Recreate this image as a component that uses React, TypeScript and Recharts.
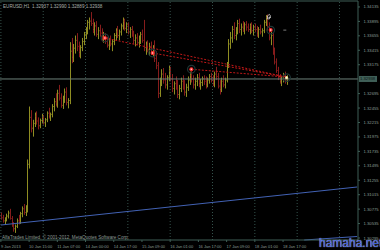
import React from 'react';
import { ComposedChart, Bar, XAxis, YAxis, ReferenceLine, ReferenceDot } from 'recharts';

// EURUSD H1, 9 Jan - 18 Jan 2013 (prices)
const opens = [
  1.3066, 1.3063, 1.3058, 1.3061, 1.3066, 1.3071, 1.3062, 1.3050, 1.3045, 1.3049,
  1.3058, 1.3055, 1.3070, 1.3078, 1.3072, 1.3078, 1.3152, 1.3230, 1.3212, 1.3220,
  1.3232, 1.3224, 1.3216, 1.3225, 1.3230, 1.3221, 1.3226, 1.3237, 1.3232, 1.3235,
  1.3248, 1.3256, 1.3252, 1.3270, 1.3262, 1.3250, 1.3260, 1.3272, 1.3255, 1.3258,
  1.3340, 1.3330, 1.3345, 1.3358, 1.3348, 1.3338, 1.3346, 1.3356, 1.3368, 1.3374,
  1.3388, 1.3390, 1.3386, 1.3376, 1.3382, 1.3368, 1.3374, 1.3370, 1.3360, 1.3368,
  1.3356, 1.3350, 1.3358, 1.3352, 1.3356, 1.3366, 1.3372, 1.3366, 1.3372, 1.3382,
  1.3390, 1.3378, 1.3384, 1.3372, 1.3376, 1.3368, 1.3358, 1.3362, 1.3354, 1.3360,
  1.3368, 1.3358, 1.3346, 1.3350, 1.3342, 1.3348, 1.3338, 1.3344, 1.3328, 1.3316,
  1.3270, 1.3290, 1.3302, 1.3292, 1.3284, 1.3296, 1.3308, 1.3294, 1.3278, 1.3286,
  1.3280, 1.3268, 1.3278, 1.3290, 1.3282, 1.3272, 1.3280, 1.3292, 1.3300, 1.3294,
  1.3284, 1.3290, 1.3296, 1.3286, 1.3288, 1.3294, 1.3290, 1.3284, 1.3292, 1.3298,
  1.3292, 1.3286, 1.3302, 1.3298, 1.3282, 1.3276, 1.3290, 1.3284, 1.3292, 1.3318,
  1.3352, 1.3362, 1.3376, 1.3366, 1.3374, 1.3386, 1.3376, 1.3380, 1.3378, 1.3384,
  1.3380, 1.3376, 1.3382, 1.3374, 1.3380, 1.3376, 1.3370, 1.3376, 1.3372, 1.3374,
  1.3388, 1.3396, 1.3380, 1.3362, 1.3366, 1.3340, 1.3322, 1.3308, 1.3296, 1.3290,
  1.3294, 1.3300, 1.3292,
];
const highs = [
  1.3072, 1.3068, 1.3064, 1.3070, 1.3075, 1.3078, 1.3066, 1.3056, 1.3052, 1.3062,
  1.3068, 1.3073, 1.3082, 1.3086, 1.3084, 1.3160, 1.3248, 1.3242, 1.3226, 1.3238,
  1.3240, 1.3230, 1.3228, 1.3236, 1.3234, 1.3229, 1.3240, 1.3246, 1.3238, 1.3252,
  1.3262, 1.3270, 1.3276, 1.3284, 1.3270, 1.3266, 1.3278, 1.3280, 1.3262, 1.3355,
  1.3362, 1.3352, 1.3366, 1.3370, 1.3356, 1.3350, 1.3362, 1.3372, 1.3380, 1.3392,
  1.3396, 1.3405, 1.3394, 1.3388, 1.3390, 1.3380, 1.3384, 1.3378, 1.3372, 1.3370,
  1.3364, 1.3362, 1.3366, 1.3360, 1.3370, 1.3378, 1.3382, 1.3376, 1.3386, 1.3396,
  1.3394, 1.3388, 1.3388, 1.3380, 1.3382, 1.3374, 1.3368, 1.3370, 1.3366, 1.3372,
  1.3376, 1.3392, 1.3356, 1.3358, 1.3354, 1.3356, 1.3350, 1.3358, 1.3340, 1.3322,
  1.3296, 1.3310, 1.3312, 1.3304, 1.3300, 1.3316, 1.3314, 1.3302, 1.3290, 1.3298,
  1.3292, 1.3284, 1.3296, 1.3300, 1.3292, 1.3286, 1.3298, 1.3306, 1.3310, 1.3300,
  1.3296, 1.3302, 1.3304, 1.3294, 1.3298, 1.3300, 1.3298, 1.3296, 1.3302, 1.3304,
  1.3300, 1.3306, 1.3314, 1.3304, 1.3292, 1.3296, 1.3300, 1.3296, 1.3322, 1.3360,
  1.3372, 1.3382, 1.3388, 1.3380, 1.3392, 1.3394, 1.3386, 1.3390, 1.3388, 1.3390,
  1.3386, 1.3386, 1.3388, 1.3384, 1.3386, 1.3382, 1.3380, 1.3384, 1.3378, 1.3392,
  1.3400, 1.3401, 1.3388, 1.3372, 1.3370, 1.3346, 1.3328, 1.3314, 1.3302, 1.3298,
  1.3304, 1.3306, 1.3300,
];
const lows = [
  1.3060, 1.3055, 1.3052, 1.3057, 1.3062, 1.3060, 1.3048, 1.3040, 1.3038, 1.3046,
  1.3052, 1.3053, 1.3064, 1.3068, 1.3066, 1.3072, 1.3145, 1.3205, 1.3198, 1.3214,
  1.3218, 1.3210, 1.3212, 1.3220, 1.3218, 1.3214, 1.3222, 1.3228, 1.3224, 1.3230,
  1.3240, 1.3248, 1.3246, 1.3258, 1.3246, 1.3244, 1.3254, 1.3250, 1.3245, 1.3252,
  1.3320, 1.3322, 1.3336, 1.3340, 1.3330, 1.3328, 1.3340, 1.3350, 1.3360, 1.3368,
  1.3376, 1.3382, 1.3370, 1.3366, 1.3364, 1.3360, 1.3364, 1.3356, 1.3354, 1.3352,
  1.3346, 1.3342, 1.3348, 1.3340, 1.3350, 1.3358, 1.3362, 1.3358, 1.3366, 1.3376,
  1.3374, 1.3370, 1.3368, 1.3362, 1.3364, 1.3352, 1.3348, 1.3350, 1.3346, 1.3352,
  1.3354, 1.3340, 1.3334, 1.3338, 1.3332, 1.3334, 1.3330, 1.3322, 1.3310, 1.3262,
  1.3264, 1.3282, 1.3286, 1.3278, 1.3276, 1.3290, 1.3290, 1.3272, 1.3268, 1.3276,
  1.3262, 1.3260, 1.3272, 1.3276, 1.3266, 1.3264, 1.3274, 1.3284, 1.3288, 1.3278,
  1.3276, 1.3282, 1.3280, 1.3276, 1.3282, 1.3284, 1.3278, 1.3280, 1.3286, 1.3288,
  1.3282, 1.3280, 1.3292, 1.3278, 1.3268, 1.3272, 1.3280, 1.3278, 1.3288, 1.3312,
  1.3344, 1.3354, 1.3360, 1.3358, 1.3368, 1.3370, 1.3366, 1.3372, 1.3368, 1.3374,
  1.3372, 1.3368, 1.3370, 1.3366, 1.3372, 1.3364, 1.3362, 1.3368, 1.3364, 1.3370,
  1.3382, 1.3374, 1.3358, 1.3350, 1.3334, 1.3318, 1.3304, 1.3292, 1.3286, 1.3282,
  1.3288, 1.3286, 1.3284,
];
const closes = [
  1.3063, 1.3058, 1.3061, 1.3066, 1.3071, 1.3062, 1.3050, 1.3045, 1.3049, 1.3058,
  1.3055, 1.3070, 1.3078, 1.3072, 1.3078, 1.3152, 1.3230, 1.3212, 1.3220, 1.3232,
  1.3224, 1.3216, 1.3225, 1.3230, 1.3221, 1.3226, 1.3237, 1.3232, 1.3235, 1.3248,
  1.3256, 1.3252, 1.3270, 1.3262, 1.3250, 1.3260, 1.3272, 1.3255, 1.3258, 1.3340,
  1.3330, 1.3345, 1.3358, 1.3348, 1.3338, 1.3346, 1.3356, 1.3368, 1.3374, 1.3388,
  1.3390, 1.3386, 1.3376, 1.3382, 1.3368, 1.3374, 1.3370, 1.3360, 1.3368, 1.3356,
  1.3350, 1.3358, 1.3352, 1.3356, 1.3366, 1.3372, 1.3366, 1.3372, 1.3382, 1.3390,
  1.3378, 1.3384, 1.3372, 1.3376, 1.3368, 1.3358, 1.3362, 1.3354, 1.3360, 1.3368,
  1.3358, 1.3346, 1.3350, 1.3342, 1.3348, 1.3338, 1.3344, 1.3328, 1.3316, 1.3270,
  1.3290, 1.3302, 1.3292, 1.3284, 1.3296, 1.3308, 1.3294, 1.3278, 1.3286, 1.3280,
  1.3268, 1.3278, 1.3290, 1.3282, 1.3272, 1.3280, 1.3292, 1.3300, 1.3294, 1.3284,
  1.3290, 1.3296, 1.3286, 1.3288, 1.3294, 1.3290, 1.3284, 1.3292, 1.3298, 1.3292,
  1.3286, 1.3302, 1.3298, 1.3282, 1.3276, 1.3290, 1.3284, 1.3292, 1.3318, 1.3352,
  1.3362, 1.3376, 1.3366, 1.3374, 1.3386, 1.3376, 1.3380, 1.3378, 1.3384, 1.3380,
  1.3376, 1.3382, 1.3374, 1.3380, 1.3376, 1.3370, 1.3376, 1.3372, 1.3374, 1.3388,
  1.3396, 1.3380, 1.3362, 1.3366, 1.3340, 1.3322, 1.3308, 1.3296, 1.3290, 1.3294,
  1.3300, 1.3292, 1.32938,
];

const timeLabels = [
  '9 Jan 2013', '10 Jan 15:00', '11 Jan 07:00', '14 Jan 00:00', '14 Jan 17:00', '15 Jan 09:00',
  '16 Jan 01:00', '16 Jan 17:00', '17 Jan 09:00', '18 Jan 01:00', '18 Jan 17:00',
];
const timeTickBars = [0, 16, 32, 48, 64, 80, 96, 112, 128, 144, 160];
const gridBars = [0, 24, 48, 72, 96, 120, 144, 168, 192];
const priceTicks = [
  1.34135, 1.33895, 1.33655, 1.33415, 1.33175, 1.32695, 1.32455, 1.32215,
  1.31975, 1.31735, 1.31495, 1.31255, 1.31015, 1.30775, 1.30535, 1.30295,
];
const priceRange = [1.30262, 1.34234];

// objects placed on the chart (bar index, price)
const markers = [
  { bar: 59, price: 1.3362, kind: 'red' },
  { bar: 86, price: 1.3337, kind: 'red' },
  { bar: 108, price: 1.3310, kind: 'red' },
  { bar: 153, price: 1.3375, kind: 'red' },
  { bar: 162, price: 1.3296, kind: 'last' },
];
const dashedLines = [
  { from: { bar: 59, price: 1.3362 }, to: { bar: 162, price: 1.3297 } },
  { from: { bar: 86, price: 1.3337 }, to: { bar: 162, price: 1.3297 } },
  { from: { bar: 108, price: 1.3310 }, to: { bar: 162, price: 1.3297 } },
];
const trendLines = [
  { from: { bar: 0, price: 1.30511 }, to: { bar: 202, price: 1.31143 } },
  { from: { bar: 172, price: 1.30262 }, to: { bar: 202, price: 1.30320 } },
];
const iconSpots = [
  { bar: 152, price: 1.3397, kind: 'hand' },
  { bar: 161, price: 1.3375, kind: 'dash' },
];

const SLOTS = 203;
const UP = '#8f8d22';
const DOWN = '#861c1c';
const AXIS = '#3f5f57';
const TEXT = '#8a9c95';
const FONT = 'Liberation Sans, Arial, sans-serif';

const rows = Array.from({ length: SLOTS }, (_, i) =>
  i < closes.length
    ? { i, open: opens[i], high: highs[i], low: lows[i], close: closes[i], range: [lows[i], highs[i]] }
    : { i, range: null }
);

const lastClose = closes[closes.length - 1];

const OhlcBar = (props: any) => {
  const { x, y, width, height, payload } = props;
  if (!payload || payload.close == null) return null;
  const { open, high, low, close } = payload;
  const top = Math.min(y, y + height);
  const h = Math.abs(height);
  const span = high - low || 1;
  const yOf = (v: number) => top + ((high - v) / span) * h;
  const cx = Math.round(x + width / 2) + 0.5;
  const color = close >= open ? UP : DOWN;
  return (
    <g>
      <line x1={cx} x2={cx} y1={top} y2={top + Math.max(h, 1)} stroke={color} strokeWidth={1} />
      <line x1={cx - 1} x2={cx} y1={yOf(open)} y2={yOf(open)} stroke={color} strokeWidth={0.8} />
      <line x1={cx} x2={cx + 1} y1={yOf(close)} y2={yOf(close)} stroke={color} strokeWidth={0.8} />
    </g>
  );
};

const Marker = (props: any) => {
  const { cx, cy, kind } = props;
  const last = kind === 'last';
  return (
    <g>
      <circle cx={cx} cy={cy} r={3.8} fill="none" stroke="#1f3535" strokeWidth={1.2} />
      <circle cx={cx} cy={cy} r={last ? 1.6 : 2} fill={last ? '#e8d890' : '#ff3030'} />
      <circle cx={cx} cy={cy} r={0.8} fill={last ? '#fff8e0' : '#ffd8d8'} />
    </g>
  );
};

const Icon = (props: any) => {
  const { cx, cy, kind } = props;
  if (kind === 'dash') {
    return <line x1={cx - 1.5} x2={cx + 1.5} y1={cy} y2={cy} stroke="#7a7a7a" strokeWidth={1} />;
  }
  return (
    <g stroke="#d8d8d8" strokeWidth={0.8} fill="none">
      <path d={`M${cx - 1.5},${cy + 2} L${cx - 1.5},${cy - 1} L${cx + 0.5},${cy - 2.5} L${cx + 1.5},${cy - 1} L${cx + 0.5},${cy + 2} Z`} />
      <line x1={cx - 0.5} x2={cx + 2} y1={cy + 0.5} y2={cy + 0.5} />
    </g>
  );
};

const TimeTick = (props: any) => {
  const { x, y, payload } = props;
  const k = timeTickBars.indexOf(payload.value);
  return (
    <text x={x} y={y + 3.5} fontSize={4} fill={TEXT} textAnchor="start" fontFamily={FONT}>
      {k >= 0 ? timeLabels[k] : ''}
    </text>
  );
};

const PriceTick = (props: any) => {
  const { x, y, payload } = props;
  return (
    <text x={x + 1.5} y={y + 1.5} fontSize={4.2} fill={TEXT} textAnchor="start" fontFamily={FONT}>
      {payload.value.toFixed(5)}
    </text>
  );
};

const PriceBox = (props: any) => {
  const { viewBox } = props;
  const bx = viewBox.x + viewBox.width + 1;
  return (
    <g>
      <rect x={bx} y={viewBox.y - 3} width={18} height={6} fill="#3f5f57" />
      <text x={bx + 1} y={viewBox.y + 1.5} fontSize={4.2} fill="#0a1512" fontFamily={FONT}>
        {lastClose.toFixed(5)}
      </text>
    </g>
  );
};

export default function App() {
  return (
    <div style={{ position: 'fixed', left: 0, top: 0, width: 380, height: 250, background: '#000', overflow: 'hidden' }}>
      <ComposedChart width={380} height={250} data={rows} margin={{ top: 1, right: 0, bottom: 0, left: 0 }} barCategoryGap={0}>
        <XAxis
          dataKey="i"
          type="category"
          ticks={timeTickBars}
          interval={0}
          height={10}
          stroke={AXIS}
          tickSize={2}
          tick={<TimeTick />}
        />
        <YAxis
          orientation="right"
          domain={priceRange}
          type="number"
          allowDataOverflow
          ticks={priceTicks}
          interval={0}
          width={22}
          stroke={AXIS}
          tickSize={2}
          tick={<PriceTick />}
        />
        <ReferenceLine y={priceRange[1]} stroke={AXIS} />
        {gridBars.map((b) => (
          <ReferenceLine key={'g' + b} x={b} stroke="#35524c" strokeDasharray="1 2" />
        ))}
        {trendLines.map((l, k) => (
          <ReferenceLine
            key={'t' + k}
            segment={[{ x: l.from.bar, y: l.from.price }, { x: l.to.bar, y: l.to.price }]}
            stroke="#4262b4"
            ifOverflow="visible"
          />
        ))}
        <ReferenceLine y={lastClose} stroke="#6d8079" label={<PriceBox />} />
        <Bar dataKey="range" shape={<OhlcBar />} isAnimationActive={false} />
        {dashedLines.map((l, k) => (
          <ReferenceLine
            key={'d' + k}
            segment={[{ x: l.from.bar, y: l.from.price }, { x: l.to.bar, y: l.to.price }]}
            stroke="#c01818"
            strokeDasharray="2 1.5"
            ifOverflow="visible"
          />
        ))}
        {markers.map((m, k) => (
          <ReferenceDot key={'m' + k} x={m.bar} y={m.price} r={3} shape={<Marker kind={m.kind} />} ifOverflow="visible" />
        ))}
        {iconSpots.map((s, k) => (
          <ReferenceDot key={'s' + k} x={s.bar} y={s.price} r={2} shape={<Icon kind={s.kind} />} ifOverflow="visible" />
        ))}
      </ComposedChart>
      <div style={{ position: 'absolute', left: 3, top: 4, fontSize: 4.6, color: '#a8b0ac', fontFamily: FONT, whiteSpace: 'pre', lineHeight: '5px' }}>
        {'EURUSD,H1  1.32937 1.32990 1.32889 1.32938'}
      </div>
      <div style={{ position: 'absolute', left: 2, top: 235, fontSize: 4.6, color: '#8c9a94', fontFamily: FONT, whiteSpace: 'pre', lineHeight: '5px' }}>
        {'AlfaTrades Limited, © 2001-2012, MetaQuotes Software Corp.'}
      </div>
      <div style={{ position: 'absolute', left: 319, top: 236, fontSize: 12, color: '#3b5fd8', fontFamily: FONT, lineHeight: '14px', textShadow: '0 0 1px #fff' }}>
        hamaha.net
      </div>
    </div>
  );
}
